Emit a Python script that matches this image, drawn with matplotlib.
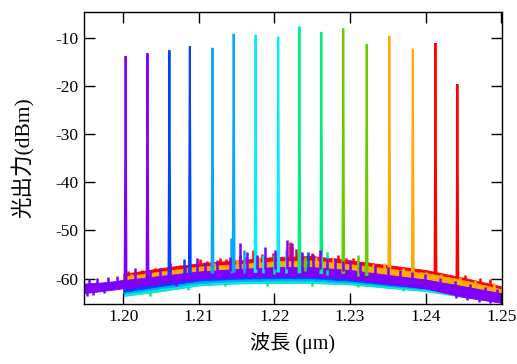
import numpy as np
import matplotlib
matplotlib.use("Agg")
import matplotlib.pyplot as plt

plt.rcParams['font.family'] = ['Liberation Serif', 'Noto Sans CJK JP']
plt.rcParams['axes.unicode_minus'] = False

# 8 traces, two lasing lines each (wavelength in um, peak power in dBm)
names = ['red', 'orange', 'yellowgreen', 'springgreen', 'cyan', 'skyblue', 'blue', 'purple']
colors = ['#ff0000', '#ffaa00', '#66cc00', '#00ee80', '#00eeff', '#00a8ff', '#0044ff', '#8000ff']
peak_wl = [
    [1.2413, 1.2442],
    [1.2352, 1.2383],
    [1.2291, 1.2322],
    [1.2233, 1.2262],
    [1.2175, 1.2205],
    [1.2118, 1.2146],
    [1.2061, 1.2088],
    [1.2003, 1.2032],
]
peak_db = [
    [-11.1, -19.6],
    [-9.6, -12.3],
    [-8.1, -11.3],
    [-7.7, -8.8],
    [-9.4, -9.8],
    [-12.1, -9.2],
    [-12.6, -11.8],
    [-13.8, -13.2],
]

# noise floor envelopes (lower / upper edge, dBm) read at these wavelengths
floor_wl = [1.200, 1.205, 1.210, 1.215, 1.220, 1.225, 1.230, 1.235, 1.240, 1.245, 1.250]
floor_lo = [
    [-61.0, -60.0, -59.2, -58.8, -58.3, -58.3, -59.0, -60.0, -61.0, -62.5, -63.5],
    [-61.2, -60.2, -59.4, -59.0, -58.5, -58.5, -59.2, -60.2, -61.2, -62.6, -63.6],
    [-62.8, -61.6, -60.6, -60.2, -60.0, -60.0, -60.6, -61.4, -62.3, -63.5, -64.5],
    [-63.6, -62.6, -61.4, -61.0, -60.9, -60.9, -61.2, -61.9, -62.6, -63.8, -64.8],
    [-63.4, -62.3, -61.2, -60.8, -60.7, -60.7, -61.0, -61.7, -62.4, -63.7, -64.7],
    [-63.1, -62.0, -60.9, -60.5, -60.4, -60.4, -60.8, -61.5, -62.2, -63.5, -64.6],
    [-62.7, -61.5, -60.4, -60.0, -59.9, -59.9, -60.4, -61.2, -62.0, -63.4, -64.7],
    [-62.0, -61.0, -60.0, -59.7, -59.5, -59.5, -60.0, -61.0, -62.0, -63.8, -65.0],
]
floor_hi = [
    [-59.0, -57.8, -56.8, -56.2, -55.5, -55.3, -56.2, -57.2, -58.2, -59.8, -61.6],
    [-59.6, -58.5, -57.5, -57.0, -56.4, -56.2, -57.0, -57.9, -58.8, -60.3, -62.2],
    [-60.8, -59.8, -58.8, -58.4, -58.2, -58.2, -58.9, -59.6, -60.4, -61.8, -63.3],
    [-61.4, -60.3, -59.3, -58.9, -58.7, -58.7, -59.3, -60.0, -60.7, -62.1, -63.5],
    [-61.2, -60.1, -59.1, -58.7, -58.5, -58.5, -59.1, -59.8, -60.5, -61.9, -63.4],
    [-61.0, -59.9, -58.9, -58.5, -58.3, -58.3, -58.9, -59.6, -60.3, -61.7, -63.3],
    [-60.7, -59.6, -58.6, -58.1, -57.9, -57.9, -58.6, -59.4, -60.2, -61.6, -63.2],
    [-60.3, -59.4, -58.5, -58.0, -57.6, -57.6, -58.2, -59.2, -60.2, -61.6, -63.0],
]

# the purple trace also covers the short range below 1.20 um
left_wl = [1.1948, 1.1970, 1.1990, 1.2000]
left_lo = [-63.0, -62.6, -62.2, -62.0]
left_hi = [-61.0, -60.8, -60.5, -60.2]

# visible noise spikes above the floor (wavelength, top dBm) per trace
spike_wl = [
    [1.2006, 1.2015, 1.2025, 1.2042, 1.2053, 1.2075, 1.2084, 1.2101, 1.2111, 1.2128,
     1.2136, 1.2155, 1.2162, 1.2172, 1.2183, 1.2198, 1.2220, 1.2228, 1.2234, 1.2250,
     1.2260, 1.2284, 1.2295, 1.2304, 1.2324, 1.2337, 1.2360, 1.2373, 1.2390, 1.2425,
     1.2452, 1.2472, 1.2485],
    [1.2010, 1.2030, 1.2060, 1.2090, 1.2120, 1.2150, 1.2180, 1.2205, 1.2232, 1.2255,
     1.2278, 1.2310, 1.2330, 1.2345, 1.2370, 1.2400, 1.2420, 1.2445, 1.2465, 1.2490],
    [1.2240, 1.2310],
    [1.2200, 1.2270],
    [1.2185, 1.2215],
    [1.2143, 1.2160],
    [1.2080, 1.2245],
    [1.1955, 1.1965, 1.1980, 1.1992,
     1.2016, 1.2035, 1.2049, 1.2062, 1.2082, 1.2098, 1.2108, 1.2124, 1.2141, 1.2154,
     1.2164, 1.2177, 1.2187, 1.2201, 1.2216, 1.2223, 1.2237, 1.2251, 1.2260, 1.2269,
     1.2280, 1.2290, 1.2300, 1.2313, 1.2333, 1.2350, 1.2366, 1.2382, 1.2399, 1.2419,
     1.2439, 1.2459, 1.2478, 1.2494],
]
spike_db = [
    [-58.4, -58.8, -58.2, -57.8, -57.8, -57.2, -57.4, -55.9, -56.3, -55.7,
     -55.9, -55.1, -55.5, -54.0, -54.9, -54.7, -52.3, -53.8, -54.5, -54.7,
     -54.9, -55.1, -55.7, -55.7, -56.5, -57.0, -57.4, -57.8, -58.6, -59.4,
     -59.2, -59.9, -60.0],
    [-59.0, -58.6, -58.0, -57.6, -56.8, -56.2, -55.6, -55.2, -55.0, -55.5,
     -55.8, -56.4, -57.0, -56.8, -57.8, -58.6, -59.0, -59.6, -60.2, -60.8],
    [-55.5, -55.0],
    [-55.0, -54.5],
    [-55.0, -54.0],
    [-51.5, -54.0],
    [-56.0, -54.5],
    [-60.1, -59.9, -59.7, -59.4,
     -57.8, -58.2, -57.8, -56.8, -57.4, -55.7, -56.5, -56.1, -55.5, -52.6,
     -54.5, -55.1, -53.4, -54.0, -52.0, -52.6, -54.5, -54.9, -54.0, -55.7,
     -55.7, -56.3, -56.1, -56.5, -57.2, -57.6, -58.2, -58.6, -59.0, -59.9,
     -60.5, -61.1, -61.7, -62.1],
]

# dips below the floor (wavelength, bottom dBm)
dip_wl = {
    'purple': [1.1952, 1.1960, 1.1975, 1.2010, 1.2070, 1.2440, 1.2455, 1.2470, 1.2485],
    'springgreen': [1.2035, 1.2085, 1.2135, 1.2190, 1.2250, 1.2310, 1.2370],
}
dip_db = {
    'purple': [-63.6, -63.3, -63.0, -62.6, -61.6, -64.0, -64.5, -64.8, -65.0],
    'springgreen': [-63.6, -62.4, -61.6, -61.5, -61.5, -61.7, -62.5],
}

fig = plt.figure(figsize=(5.17, 3.64), dpi=100)
ax = fig.add_axes([84 / 517, 1 - 303.5 / 364, 418 / 517, 292 / 364])

for i in range(len(names)):
    c = colors[i]
    if names[i] == 'purple':
        ax.fill_between(left_wl, left_lo, left_hi, color=c, lw=0.6)
    ax.fill_between(floor_wl, floor_lo[i], floor_hi[i], color=c, lw=0.6)
    sw = np.array(spike_wl[i])
    base = np.where(sw < 1.2, np.interp(sw, left_wl, left_hi),
                    np.interp(sw, floor_wl, floor_hi[i]))
    ax.vlines(sw, base - 0.3, spike_db[i], color=c, lw=1.8)
    if names[i] in dip_wl:
        dw = np.array(dip_wl[names[i]])
        top = np.where(dw < 1.2, np.interp(dw, left_wl, left_lo),
                       np.interp(dw, floor_wl, floor_lo[i]))
        ax.vlines(dw, top + 0.3, dip_db[names[i]], color=c, lw=1.8)
    for w, p in zip(peak_wl[i], peak_db[i]):
        b = np.interp(w, floor_wl, floor_hi[i])
        ax.plot([w - 0.00012, w, w + 0.00012], [b, p, b], color=c, lw=1.4,
                solid_joinstyle='miter')

ax.set_xlim(1.1948, 1.2501)
ax.set_ylim(-65.15, -4.56)
ax.set_xticks([1.20, 1.21, 1.22, 1.23, 1.24, 1.25])
ax.set_xticklabels(['1.20', '1.21', '1.22', '1.23', '1.24', '1.25'])
ax.set_yticks([-60, -50, -40, -30, -20, -10])
ax.tick_params(direction='in', length=8, width=1, top=True, right=True,
               labelsize=12.5, pad=4)
for s in ax.spines.values():
    s.set_linewidth(1.0)

ax.set_xlabel('波長 (μm)', fontsize=14.5, labelpad=5)
ax.set_ylabel('光出力(dBm)', fontsize=15.5, labelpad=15)

fig.savefig('out.png', dpi=100)
